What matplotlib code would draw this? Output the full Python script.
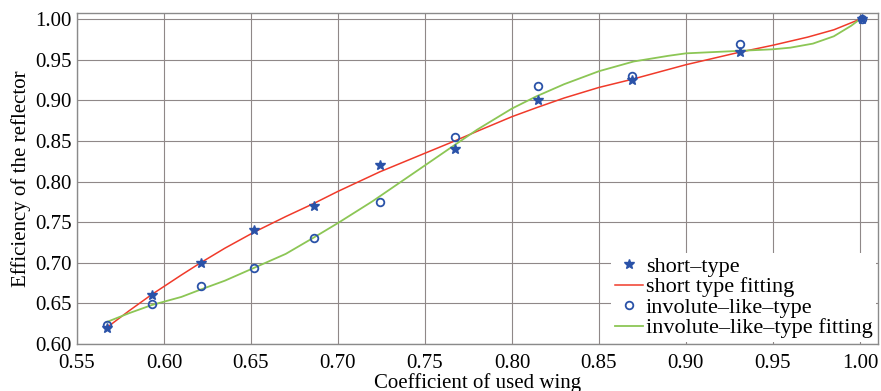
import matplotlib
matplotlib.use("Agg")
import matplotlib.pyplot as plt

# Measured points
x_pts = [0.567, 0.593, 0.621, 0.652, 0.686, 0.724, 0.767, 0.815, 0.869, 0.931, 1.001]
short_type = [0.620, 0.660, 0.700, 0.740, 0.770, 0.820, 0.840, 0.900, 0.925, 0.960, 1.000]
involute_type = [0.624, 0.649, 0.672, 0.694, 0.730, 0.775, 0.855, 0.918, 0.930, 0.969, 1.000]

# Fitted curves
short_fit_x = [0.567, 0.58, 0.593, 0.61, 0.621, 0.635, 0.652, 0.67, 0.686, 0.70, 0.724,
               0.75, 0.767, 0.78, 0.80, 0.814, 0.83, 0.85, 0.869, 0.90, 0.93, 0.95,
               0.97, 0.985, 1.0]
short_fit_y = [0.620, 0.641, 0.661, 0.685, 0.700, 0.718, 0.738, 0.757, 0.773, 0.788, 0.812,
               0.835, 0.850, 0.862, 0.880, 0.891, 0.903, 0.916, 0.926, 0.944, 0.959, 0.968,
               0.978, 0.987, 1.0]
inv_fit_x = [0.567, 0.58, 0.593, 0.61, 0.621, 0.635, 0.652, 0.67, 0.686, 0.70, 0.72,
             0.75, 0.767, 0.78, 0.80, 0.814, 0.83, 0.85, 0.87, 0.89, 0.90, 0.93, 0.95,
             0.96, 0.973, 0.985, 0.995, 1.0]
inv_fit_y = [0.627, 0.638, 0.648, 0.658, 0.667, 0.678, 0.694, 0.711, 0.731, 0.749, 0.776,
             0.820, 0.845, 0.864, 0.890, 0.905, 0.920, 0.936, 0.948, 0.955, 0.958, 0.961, 0.963,
             0.965, 0.970, 0.979, 0.992, 1.0]

x_ticks = [0.55, 0.60, 0.65, 0.70, 0.75, 0.80, 0.85, 0.90, 0.95, 1.00]
y_ticks = [0.60, 0.65, 0.70, 0.75, 0.80, 0.85, 0.90, 0.95, 1.00]

plt.rcParams['font.family'] = ['Liberation Serif', 'DejaVu Serif']

fig = plt.figure(figsize=(8.81, 3.91), dpi=100)
ax = fig.add_axes([77/881, 1 - 344/391, (878-77)/881, (344-13)/391])

blue = '#2a52a8'
ax.plot(x_pts, short_type, linestyle='none', marker='*', markersize=7.5,
        color=blue, label='short–type', zorder=4)
ax.plot(short_fit_x, short_fit_y, color='#f03a2a', linewidth=1.1,
        label='short type fitting', zorder=3)
ax.plot(x_pts, involute_type, linestyle='none', marker='o', markersize=5.5,
        markerfacecolor='none', markeredgecolor=blue, markeredgewidth=1.3,
        label='involute–like–type', zorder=4)
ax.plot(inv_fit_x, inv_fit_y, color='#8cc655', linewidth=1.3,
        label='involute–like–type fitting', zorder=3)

ax.set_xlim(0.55, 1.0104)
ax.set_ylim(0.60, 1.0077)
ax.set_xticks(x_ticks)
ax.set_yticks(y_ticks)
ax.set_xticklabels([f'{v:.2f}' for v in x_ticks])
ax.set_yticklabels([f'{v:.2f}' for v in y_ticks])
ax.tick_params(labelsize=15, length=0)
ax.tick_params(axis='x', pad=7)
ax.tick_params(axis='y', pad=4)
ax.grid(True, color='#8f8888', linewidth=0.8)
for s in ax.spines.values():
    s.set_color('#8a8a8a')
    s.set_linewidth(1.0)

ax.set_xlabel('Coefficient of used wing', fontsize=15, labelpad=0)
ax.set_ylabel('Efficiency of the reflector', fontsize=15, labelpad=3)

leg = ax.legend(loc='lower right', fontsize=16, frameon=True, fancybox=False,
                borderaxespad=0.1, borderpad=0.15, handlelength=1.3,
                handletextpad=0.1, labelspacing=0.0)
leg.get_frame().set_edgecolor('none')
leg.get_frame().set_facecolor('white')
leg.get_frame().set_alpha(1.0)

fig.savefig('out.png', dpi=100)
